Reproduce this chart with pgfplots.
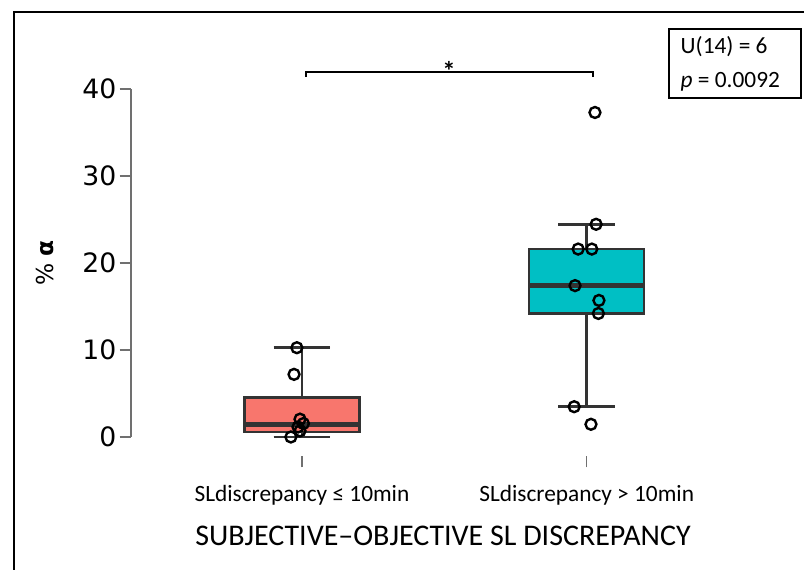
\documentclass[border=0pt]{standalone}
\usepackage{fontspec}
\setmainfont{Carlito}
\newfontfamily\dejavu{DejaVu Sans}
\usepackage{pgfplots}
\pgfplotsset{compat=1.18}
\usepgfplotslibrary{statistics}
\definecolor{boxred}{HTML}{F8766D}
\definecolor{boxteal}{HTML}{00BFC4}
\definecolor{edge}{HTML}{333333}
\definecolor{axgray}{HTML}{707070}
\begin{document}
\begin{tikzpicture}[x=0.75pt,y=0.75pt]
\useasboundingbox (0,0) rectangle (804,570);
\draw[line width=1.6pt] (14,0) -- (14,558) -- (804,558);
\begin{axis}[
  at={(98.25pt,85.5pt)}, anchor=south west,
  scale only axis, width=502.5pt, height=275.25pt,
  xmin=0.3994, xmax=2.7527, ymin=-2.184, ymax=40,
  axis x line*=bottom, axis y line*=left,
  x axis line style={draw=none}, y axis line style={draw=none},
  xtick={1,2},
  xticklabels={SLdiscrepancy ≤ 10min, SLdiscrepancy > 10min},
  ytick={0,10,20,30,40},
  tick align=outside, major tick length=8.5pt,
  tick style={axgray, line width=0.9pt},
  /pgf/number format/assume math mode=true,
  yticklabel style={font=\dejavu\fontsize{20}{23}\selectfont, xshift=1pt},
  xticklabel style={font=\fontsize{17.5}{21}\selectfont, yshift=-10pt},
  clip=false,
  boxplot/draw direction=y,
]
\draw[axgray, line width=0.9pt] (axis cs:0.3994,0) -- (axis cs:0.3994,40);
\addplot[boxplot prepared={lower whisker=0, lower quartile=0.6, median=1.46, upper quartile=4.55, upper whisker=10.3, draw position=1, box extend=0.404, whisker extend=0.2}, draw=edge, fill=boxred, line width=1.9pt, boxplot/every median/.style={line width=3.6pt}] coordinates {};
\addplot[boxplot prepared={lower whisker=3.48, lower quartile=14.2, median=17.4, upper quartile=21.6, upper whisker=24.45, draw position=2, box extend=0.404, whisker extend=0.2}, draw=edge, fill=boxteal, line width=1.9pt, boxplot/every median/.style={line width=3.6pt}] coordinates {};
\addplot[only marks, mark=o, mark size=4.1pt, line width=1.8pt, black] coordinates {
 (0.982,10.26) (0.972,7.2) (0.993,2.05) (1.005,1.55) (0.986,1.15) (0.993,0.7) (0.961,0)
 (2.029,37.3) (2.033,24.45) (1.970,21.6) (2.018,21.6) (1.959,17.4) (2.043,15.7) (2.041,14.2) (1.956,3.48) (2.015,1.46)
};
\draw[line width=1.9pt] (axis cs:1.014,41.35) -- (axis cs:1.014,41.95) -- (axis cs:2.022,41.95) -- (axis cs:2.022,41.35);
\node[inner sep=0pt, font=\bfseries\fontsize{20}{23}\selectfont] at (axis cs:1.516,42.1) {*};
\end{axis}
\draw[line width=0.9pt] (669,472) rectangle (801,541);
\node[anchor=west, font=\fontsize{17.5}{21}\selectfont] at (676,523) {U(14) = 6};
\node[anchor=west, font=\fontsize{17.5}{21}\selectfont] at (676,488) {\textit{p} = 0.0092};
\node[rotate=90, font=\dejavu\fontsize{17.5}{20}\selectfont] at (45,307) {\% \textbf{α}};
\node[font=\fontsize{22.5}{26}\selectfont] at (443,34) {SUBJECTIVE–OBJECTIVE SL DISCREPANCY};
\end{tikzpicture}
\end{document}
